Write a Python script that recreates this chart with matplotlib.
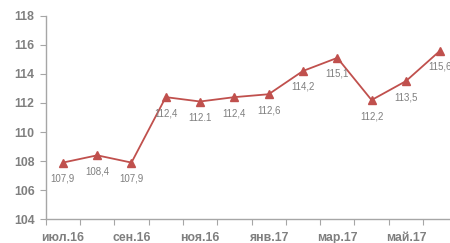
import numpy as np
import matplotlib
matplotlib.use("Agg")
import matplotlib.pyplot as plt

months = ["июл.16", "авг.16", "сен.16", "окт.16", "ноя.16", "дек.16",
          "янв.17", "фев.17", "мар.17", "апр.17", "май.17", "июн.17"]
values = [107.9, 108.4, 107.9, 112.4, 112.1, 112.4, 112.6, 114.2, 115.1, 112.2, 113.5, 115.6]
point_labels = ["107,9", "108,4", "107,9", "112,4", "112.1", "112,4",
                "112,6", "114,2", "115,1", "112,2", "113,5", "115,6"]
y_ticks = [104, 106, 108, 110, 112, 114, 116, 118]

line_color = "#c0504d"
text_color = "#7f7f7f"
axis_color = "#a6a6a6"

plt.rcParams['font.family'] = ['Liberation Sans', 'DejaVu Sans']

fig = plt.figure(figsize=(4.5, 2.43), dpi=100)
# axis runs a little past the right edge of the image, as in the original
ax = fig.add_axes([0.1016, 0.0975, 0.9147, 0.8379])

x = np.arange(len(values))
ax.plot(x, values, color=line_color, lw=1.3, marker="^", ms=6,
        markerfacecolor=line_color, markeredgecolor=line_color)

for xi, v, lab in zip(x, values, point_labels):
    ax.annotate(lab, (xi, v), xytext=(0, -16), textcoords="offset pixels",
                ha="center", va="center", fontsize=7, color=text_color)

ax.set_xlim(-0.5, len(values) - 0.5)
ax.set_ylim(104, 118)
ax.set_yticks(y_ticks)
ax.set_yticklabels([str(t) for t in y_ticks])

# ticks on category boundaries, labels on every second month
ax.set_xticks(np.arange(len(values) + 1) - 0.5)
ax.set_xticklabels([])
ax.set_xticks(x[::2], minor=True)
ax.set_xticklabels(months[::2], minor=True)
ax.tick_params(axis="x", which="minor", length=0, pad=9)
ax.tick_params(axis="x", which="major", length=4, color=axis_color, direction="out")
ax.tick_params(axis="y", length=4, color=axis_color, direction="out", pad=4)

for lab in ax.get_yticklabels() + ax.get_xticklabels(minor=True):
    lab.set_color(text_color)
    lab.set_fontsize(8.8)
    lab.set_fontweight("bold")

for s in ["top", "right"]:
    ax.spines[s].set_visible(False)
for s in ["left", "bottom"]:
    ax.spines[s].set_color(axis_color)
    ax.spines[s].set_linewidth(1.0)

fig.savefig("out.png", dpi=100)
